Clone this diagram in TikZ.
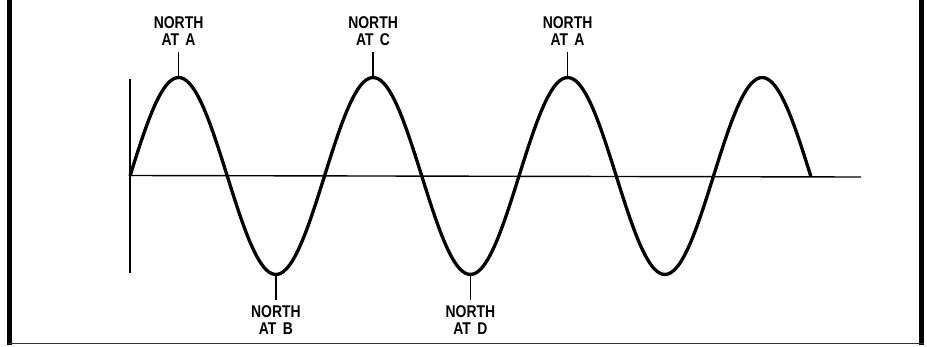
\documentclass[tikz,border=0pt]{standalone}
\usepackage{fontspec}
\usepackage{graphicx}
\setmainfont{Liberation Sans}
\newcommand{\cnd}[1]{\scalebox{0.82}[1]{#1}}
\begin{document}
\begin{tikzpicture}[x=1pt,y=-1pt,
  wave/.style={line width=3.3pt,line join=round},
  axisline/.style={line width=1.4pt},
  tickline/.style={line width=1.3pt},
  lbl/.style={inner sep=0pt,align=center,font=\fontsize{17}{17}\selectfont\bfseries}]
\useasboundingbox (0,0) rectangle (927,346);
% frame
\draw[line width=4.5pt] (9.5,0) -- (9.5,344.5);
\draw[line width=4.5pt] (921.5,0) -- (921.5,344.5);
\draw[line width=1.6pt,black!80] (7.5,343.5) -- (923.5,343.5);
% axes
\coordinate (o) at (130,175.5);
\coordinate (xe) at (861,177);
\coordinate (yt) at (130,79);
\coordinate (yb) at (130,273);
\draw[axisline] (o) -- (xe);
\draw[axisline] (yt) -- (yb);
% wave
\draw[wave] plot[smooth,samples=240,domain=0:680.75] ({130+\x},{176-98.5*sin(\x/194.5*360)});
% peaks and troughs
\coordinate (p1) at (178.6,77.5);
\coordinate (p2) at (373.1,77.5);
\coordinate (p3) at (567.6,77.5);
\coordinate (q1) at (275.9,274.5);
\coordinate (q2) at (470.4,274.5);
% tick tops
\coordinate (t1) at (178.6,52);
\coordinate (t2) at (373.1,52);
\coordinate (t3) at (567.6,52);
\coordinate (b1) at (275.9,300);
\coordinate (b2) at (470.4,300);
\draw[tickline] (p1) -- (t1);
\draw[tickline] (p2) -- (t2);
\draw[tickline] (p3) -- (t3);
\draw[tickline] (q1) -- (b1);
\draw[tickline] (q2) -- (b2);
% labels
\node[lbl,anchor=south] (l1) at (178.6,46) {\cnd{NORTH}\\\cnd{AT\hspace{0.45em}A}};
\node[lbl,anchor=south] (l2) at (373.1,46) {\cnd{NORTH}\\\cnd{AT\hspace{0.45em}C}};
\node[lbl,anchor=south] (l3) at (567.6,46) {\cnd{NORTH}\\\cnd{AT\hspace{0.45em}A}};
\node[lbl,anchor=north] (l4) at (275.9,305) {\cnd{NORTH}\\\cnd{AT\hspace{0.45em}B}};
\node[lbl,anchor=north] (l5) at (470.4,305) {\cnd{NORTH}\\\cnd{AT\hspace{0.45em}D}};
\end{tikzpicture}
\end{document}
